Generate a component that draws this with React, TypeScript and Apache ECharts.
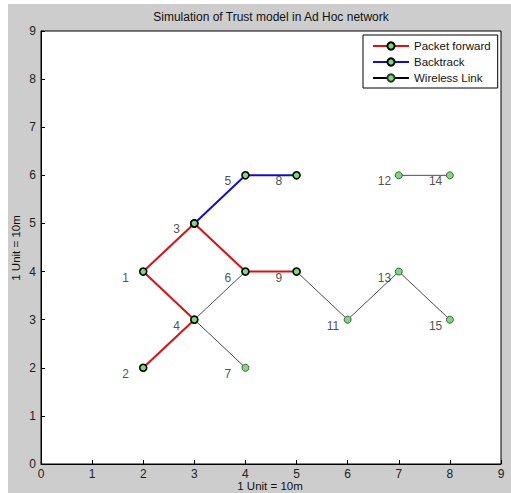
import React, { useEffect, useRef } from "react";
import * as echarts from "echarts";

const titleText = "Simulation of Trust model in Ad Hoc network";
const xAxisName = "1 Unit = 10m";
const yAxisName = "1 Unit = 10m";

const nodeIds = [1, 2, 3, 4, 5, 6, 7, 8, 9, 11, 12, 13, 14, 15];
const nodeX = [2, 2, 3, 3, 4, 4, 4, 5, 5, 6, 7, 7, 8, 8];
const nodeY = [4, 2, 5, 3, 6, 4, 2, 6, 4, 3, 6, 4, 6, 3];

const forwardPath = [2, 4, 1, 3, 6, 9];
const backtrackPath = [3, 5, 8];
const wirelessPaths = [
  [6, 4, 7],
  [9, 11, 13, 15],
  [12, 14],
];

const seriesNames = ["Packet forward", "Backtrack", "Wireless Link"];
const xMin = 0, xMax = 9, yMin = 0, yMax = 9;

const FONT = "Arial, 'Liberation Sans', sans-serif";
const GREEN = "#72e072";

function pt(id: number): [number, number] {
  const i = nodeIds.indexOf(id);
  return [nodeX[i], nodeY[i]];
}

export default function App() {
  const ref = useRef<HTMLDivElement>(null);
  useEffect(() => {
    document.body.style.margin = "0";
    const chart = echarts.init(ref.current!, null, { renderer: "svg" });

    const wirelessData: any[] = [];
    wirelessPaths.forEach((p, k) => {
      if (k > 0) wirelessData.push(null);
      p.forEach((id) => wirelessData.push(pt(id)));
    });

    const thickSym = {
      color: GREEN,
      borderColor: "#000",
      borderWidth: 1.6,
    };

    chart.setOption({
      animation: false,
      backgroundColor: "#cdcdcd",
      textStyle: { fontFamily: FONT },
      grid: {
        left: 41,
        right: 10,
        top: 31,
        bottom: 29,
        show: true,
        backgroundColor: "#fff",
        borderColor: "#000",
        borderWidth: 1,
      },
      xAxis: {
        type: "value",
        min: xMin,
        max: xMax,
        interval: 1,
        axisLine: { show: true, onZero: false, lineStyle: { color: "#000", width: 1 } },
        axisTick: { show: true, inside: true, length: 4, lineStyle: { color: "#000" } },
        axisLabel: { color: "#222", fontSize: 12, margin: 4, fontFamily: FONT },
        splitLine: { show: false },
      },
      yAxis: {
        type: "value",
        min: yMin,
        max: yMax,
        interval: 1,
        axisLine: { show: true, onZero: false, lineStyle: { color: "#000", width: 1 } },
        axisTick: { show: true, inside: true, length: 4, lineStyle: { color: "#000" } },
        axisLabel: { color: "#222", fontSize: 12, margin: 5, fontFamily: FONT },
        splitLine: { show: false },
      },
      legend: {
        data: seriesNames,
        orient: "vertical",
        left: 363,
        top: 35,
        backgroundColor: "#fff",
        borderColor: "#000",
        borderWidth: 1,
        borderRadius: 0,
        padding: [5, 7, 4, 9],
        itemGap: 4,
        itemWidth: 36,
        itemHeight: 9,
        textStyle: { fontSize: 11.5, color: "#111", fontFamily: FONT },
      },
      graphic: [
        { type: "rect", shape: { x: 0, y: 0, width: 511, height: 4 }, style: { fill: "#fff" }, silent: true },
        { type: "rect", shape: { x: 0, y: 0, width: 8, height: 493 }, style: { fill: "#fff" }, silent: true },
        {
          type: "text",
          x: 271,
          y: 17,
          style: { text: titleText, fill: "#111", font: `12px ${FONT}`, textAlign: "center", textVerticalAlign: "middle" },
        },
        {
          type: "text",
          x: 270,
          y: 486,
          style: { text: xAxisName, fill: "#111", font: `11.5px ${FONT}`, textAlign: "center", textVerticalAlign: "middle" },
        },
        {
          type: "text",
          x: 16,
          y: 248,
          rotation: Math.PI / 2,
          style: { text: yAxisName, fill: "#111", font: `11.5px ${FONT}`, textAlign: "center", textVerticalAlign: "middle" },
        },
      ],
      series: [
        {
          name: "Wireless Link",
          type: "line",
          data: wirelessData,
          connectNulls: false,
          symbol: "circle",
          symbolSize: 7,
          showAllSymbol: true,
          lineStyle: { color: "#000", width: 0.7 },
          itemStyle: { color: GREEN, borderColor: "#333", borderWidth: 0.8 },
          z: 2,
        },
        {
          name: "Packet forward",
          type: "line",
          data: forwardPath.map(pt),
          symbol: "circle",
          symbolSize: 7,
          showAllSymbol: true,
          lineStyle: { color: "#dd1010", width: 2 },
          itemStyle: thickSym,
          z: 3,
        },
        {
          name: "Backtrack",
          type: "line",
          data: backtrackPath.map(pt),
          symbol: "circle",
          symbolSize: 7,
          showAllSymbol: true,
          lineStyle: { color: "#1010cc", width: 2 },
          itemStyle: thickSym,
          z: 4,
        },
        {
          name: "labels",
          type: "scatter",
          data: nodeIds.map((id, i) => [nodeX[i], nodeY[i], id]),
          symbolSize: 7,
          itemStyle: { color: "rgba(0,0,0,0)" },
          silent: true,
          z: 5,
          label: {
            show: true,
            position: [-17.5, 9.5],
            align: "left",
            verticalAlign: "middle",
            formatter: (p: any) => String(p.value[2]),
            color: "#222",
            textBorderWidth: 0,
            fontSize: 12,
            fontFamily: FONT,
          },
        },
      ],
    });
    return () => chart.dispose();
  }, []);
  return <div ref={ref} style={{ width: 511, height: 493 }} />;
}
